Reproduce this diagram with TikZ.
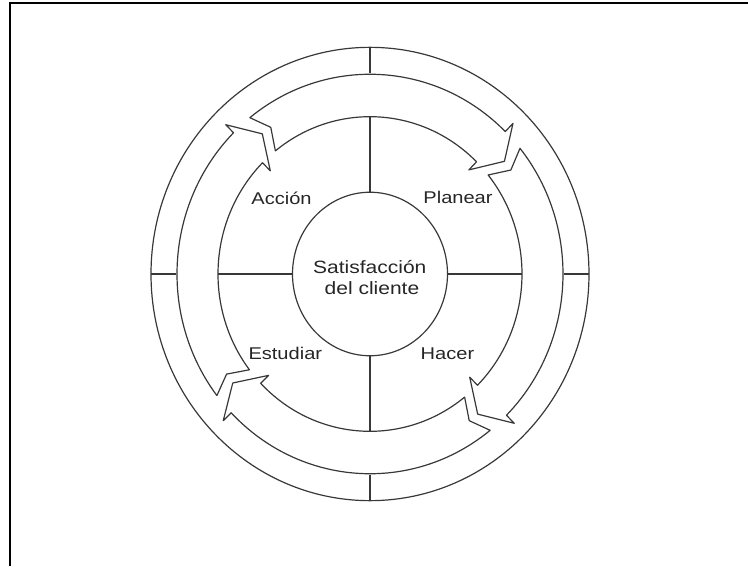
\documentclass[tikz,border=0pt]{standalone}
\usepackage{fontspec}
\setmainfont{Liberation Sans}[FakeStretch=1.18]
\begin{document}
\begin{tikzpicture}[x=1pt,y=1pt,
  ln/.style={draw=black!78, line width=1.2pt, line join=round},
  lab/.style={anchor=base, font=\fontsize{17}{20}\selectfont, text=black!85, inner sep=0pt},
  mid/.style={anchor=base, font=\fontsize{17.8}{22}\selectfont, text=black!85, inner sep=0pt}]
\useasboundingbox (0,0) rectangle (748,566);
\coordinate (fTL) at (10,563);
\coordinate (fTR) at (748,563);
\coordinate (fBL) at (10,0);
\draw[black, line width=2pt] (fBL) -- (fTL) -- (fTR);
\begin{scope}[shift={(370,292)}, yscale=1.035]
  \draw[ln] (0,0) circle[radius=219];
  \draw[ln] (0,0) circle[x radius=77.5, y radius=79];
  \foreach \t/\h in {128.5/39, 39/-51.5, -51.5/-142.5, -142.5/-231.5} {
    \pgfmathsetmacro\b{\h+6.5}
    \pgfmathsetmacro\ap{\t-3.5}
    \draw[ln] (\t:193) arc[start angle=\t, end angle=\b, radius=193]
      -- (\b:204) -- (\h:173) -- (\b:141) -- (\b:152)
      arc[start angle=\b, end angle=\t, radius=152] -- (\ap:173) -- cycle;
  }
  \foreach \a in {0,180} {
    \draw[ln] (\a:194) -- (\a:219);
    \draw[ln] (\a:77.5) -- (\a:152);
  }
  \foreach \a in {90,270} {
    \draw[ln] (\a:194) -- (\a:219);
    \draw[ln] (\a:79) -- (\a:152);
  }
\end{scope}
\node[lab] (accion) at (281.5,361) {Acción};
\node[lab] (planear) at (458,362.5) {Planear};
\node[lab] (estudiar) at (285.3,206.7) {Estudiar};
\node[lab] (hacer) at (447.5,206.7) {Hacer};
\node[mid] (sat) at (369.8,292.7) {Satisfacción};
\node[mid] (cli) at (372,271.8) {del cliente};
\end{tikzpicture}
\end{document}
